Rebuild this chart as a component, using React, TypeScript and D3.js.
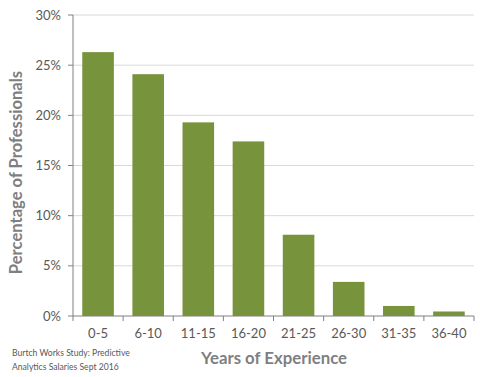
import React from "react";
import * as d3 from "d3";

const categories = ["0-5", "6-10", "11-15", "16-20", "21-25", "26-30", "31-35", "36-40"];
const values = [26.3, 24.1, 19.3, 17.4, 8.1, 3.4, 1.0, 0.45];
const yTicks = [0, 5, 10, 15, 20, 25, 30];

const W = 480;
const H = 377;
const left = 73;
const right = 474;
const top = 15;
const bottom = 316;
const font = "Lato, 'Open Sans', sans-serif";

export default function App() {
  const x = d3.scaleBand<string>().domain(categories).range([left, right]).paddingInner(0.37).paddingOuter(0.185);
  const y = d3.scaleLinear().domain([0, 30]).range([bottom, top]);
  const step = (right - left) / categories.length;
  const tickXs = d3.range(categories.length + 1).map((i) => left + i * step);

  return (
    <svg width={W} height={H} style={{ position: "absolute", left: 0, top: 0, background: "#fff" }}>
      {yTicks.filter((t) => t > 0).map((t) => (
        <line key={"g" + t} x1={left} x2={right} y1={y(t)} y2={y(t)} stroke="#D9D9D9" strokeWidth={1} />
      ))}
      {categories.map((c, i) => (
        <rect key={c} x={x(c)} y={y(values[i])} width={x.bandwidth()} height={y(0) - y(values[i])} fill="#77933C" />
      ))}
      <line x1={left} x2={left} y1={top} y2={bottom} stroke="#808080" strokeWidth={1} />
      <line x1={left} x2={right} y1={bottom} y2={bottom} stroke="#808080" strokeWidth={1} />
      {yTicks.map((t) => (
        <g key={"y" + t}>
          <line x1={left - 5} x2={left} y1={y(t)} y2={y(t)} stroke="#808080" />
          <text x={left - 12} y={y(t)} dy="0.35em" textAnchor="end" fontSize={13} fill="#595959" fontFamily={font}>
            {t + "%"}
          </text>
        </g>
      ))}
      {tickXs.map((tx, i) => (
        <line key={"xt" + i} x1={tx} x2={tx} y1={bottom} y2={bottom + 5} stroke="#808080" />
      ))}
      {categories.map((c) => (
        <text key={"xl" + c} x={(x(c) as number) + x.bandwidth() / 2} y={333} dy="0.35em" textAnchor="middle" fontSize={13} fill="#595959" fontFamily={font}>
          {c}
        </text>
      ))}
      <text transform={`translate(22,${(top + bottom) / 2 + 7}) rotate(-90)`} textAnchor="middle" fontSize={16.6} fontWeight="bold" fill="#7F7F7F" fontFamily={font}>
        Percentage of Professionals
      </text>
      <text x={274} y={364} textAnchor="middle" fontSize={16.8} fontWeight="bold" fill="#7F7F7F" fontFamily={font}>
        Years of Experience
      </text>
      <text x={12} y={356} fontSize={8.6} fill="#595959" fontFamily={font}>
        Burtch Works Study: Predictive
      </text>
      <text x={12} y={370} fontSize={8.6} fill="#595959" fontFamily={font}>
        Analytics Salaries Sept 2016
      </text>
    </svg>
  );
}
